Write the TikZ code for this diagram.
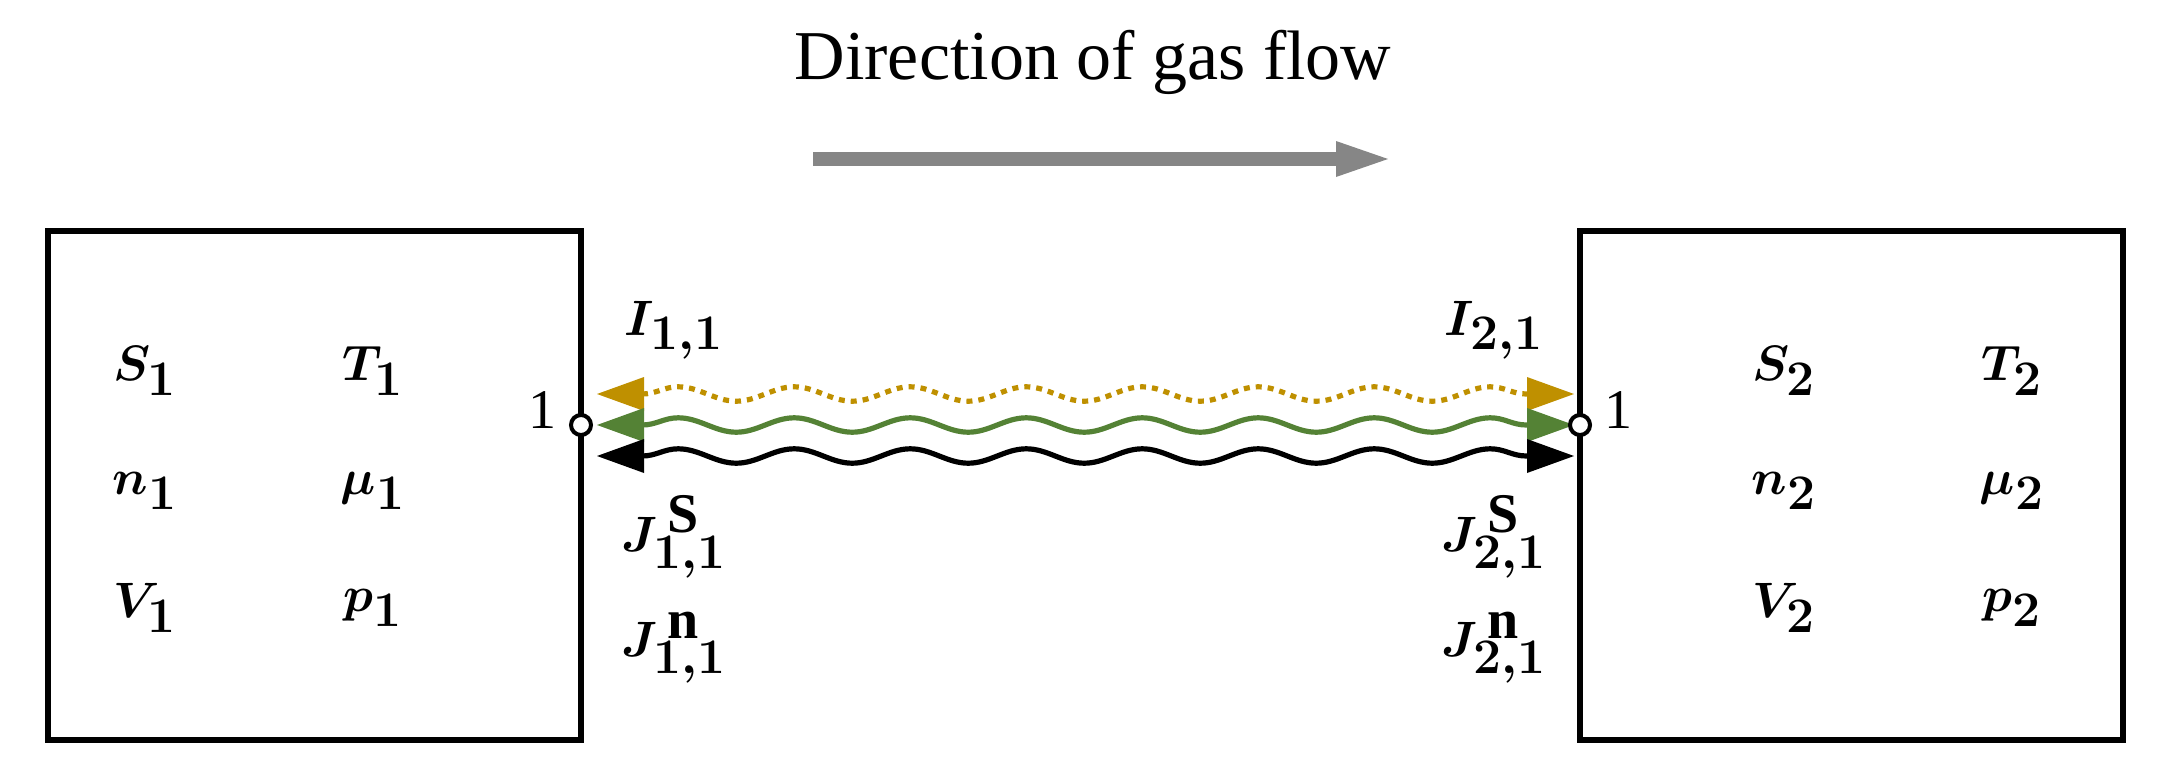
\documentclass[tikz,border=0pt]{standalone}
\usepackage{fontspec}
\setmainfont{Liberation Serif}
\usetikzlibrary{decorations.pathmorphing}
\definecolor{gold}{HTML}{BF9000}
\definecolor{leaf}{HTML}{548235}
\begin{document}
\begin{tikzpicture}[x=0.5pt,y=-0.5pt,
  box/.style={draw,line width=2.6pt},
  var/.style={font=\fontsize{42}{48}\selectfont\boldmath,anchor=center},
  lab/.style={font=\fontsize{40}{46}\selectfont\boldmath,anchor=center},
  wave/.style={line width=2.6pt,decorate,decoration={snake,segment length=58pt,amplitude=3.6pt}},
  port/.style={circle,draw,line width=2pt,fill=white,inner sep=0pt,minimum size=10pt}]
\useasboundingbox (0,0) rectangle (2169,782);
\node[font=\fontsize{35}{40}\selectfont] (title) at (1093,62) {Direction of gas flow};
\coordinate (ga) at (813,159);
\coordinate (gb) at (1388,159);
\draw[line width=7pt,gray!95] (ga) -- (1340,159);
\fill[gray!95] (gb) -- (1336,141) -- (1336,177) -- cycle;
\draw[box] (48,231) rectangle (581,740);
\draw[box] (1580,231) rectangle (2123,740);
\node[var] (s1) at (145,371) {$S_1$};
\node[var] (t1) at (373,371) {$T_1$};
\node[var] (n1) at (145,491) {$n_1$};
\node[var] (m1) at (373,491) {$\mu_1$};
\node[var] (v1) at (145,608) {$V_1$};
\node[var] (p1) at (373,608) {$p_1$};
\node[var] (s2) at (1784,371) {$S_2$};
\node[var] (t2) at (2012,371) {$T_2$};
\node[var] (n2) at (1784,491) {$n_2$};
\node[var] (m2) at (2012,491) {$\mu_2$};
\node[var] (v2) at (1784,608) {$V_2$};
\node[var] (p2) at (2012,608) {$p_2$};
\foreach \y/\c/\d in {394/gold/dashed,425/leaf/solid,456/black/solid}{
  \draw[wave,\c,\d] (642,\y) -- (1532,\y);
  \fill[\c] (597,\y) -- (644,\y-17) -- (644,\y+17) -- cycle;
  \fill[\c] (1574,\y) -- (1527,\y-17) -- (1527,\y+17) -- cycle;
}
\node[port] (c1) at (581,425) {};
\node[port] (c2) at (1580,425) {};
\node[font=\fontsize{28}{32}\selectfont] (o1) at (542,410) {1};
\node[font=\fontsize{28}{32}\selectfont] (o2) at (1618,410) {1};
\node[lab] (i1) at (674,330) {$I_{1,1}$};
\node[lab] (js1) at (674,537) {$J^{\,\mathrm{S}}_{1,1}$};
\node[lab] (jn1) at (674,648) {$J^{\,\mathrm{n}}_{1,1}$};
\node[lab] (i2) at (1494,330) {$I_{2,1}$};
\node[lab] (js2) at (1494,537) {$J^{\,\mathrm{S}}_{2,1}$};
\node[lab] (jn2) at (1494,648) {$J^{\,\mathrm{n}}_{2,1}$};
\end{tikzpicture}
\end{document}
